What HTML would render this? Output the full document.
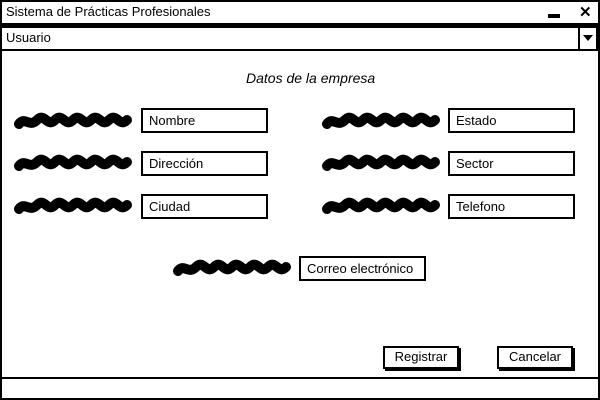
<!DOCTYPE html>
<html><head><style>
body{margin:0;width:600px;height:400px;background:#fff;position:relative;overflow:hidden;font-family:"Liberation Sans",sans-serif;font-size:13px;color:#000}
.a{position:absolute;box-sizing:border-box}
.box{border:2px solid #000;background:#fff;padding:2px 6px;line-height:18px}
.btn{border:2px solid #000;background:#fff;box-shadow:2px 2px 0 #000;text-align:center;line-height:18px}
</style></head><body>
<div class="a" style="left:0;top:0;width:600px;height:400px;border:2px solid #000"></div>
<div class="a" style="left:6px;top:4px">Sistema de Prácticas Profesionales</div>
<div class="a" style="left:548px;top:14px;width:12px;height:4px;background:#000"></div>
<div class="a" style="left:579px;top:3px;font-weight:bold;font-size:15px">✕</div>
<div class="a" style="left:0;top:23px;width:600px;height:3px;background:#000"></div>
<div class="a" style="left:0;top:26px;width:598px;height:25px;border:2px solid #000"></div>
<div class="a" style="left:6px;top:30px">Usuario</div>
<div class="a" style="left:578px;top:26px;width:2px;height:25px;background:#000"></div>
<div class="a" style="left:583px;top:35px;width:0;height:0;border-left:5px solid transparent;border-right:5px solid transparent;border-top:6px solid #000"></div>
<div class="a" style="left:246px;top:70px;font-style:italic;font-size:14px">Datos de la empresa</div>
<svg class="a" style="left:0;top:0" width="600" height="400">
<defs><path id="s" d="M0 6 C6 -2 10 10 18 2 S28 10 36 2 S46 10 54 2 S64 10 72 2 S82 10 90 2 S100 10 108 2" fill="none" stroke="#000" stroke-width="10" stroke-linecap="round"/></defs>
<use href="#s" x="19" y="118"/><use href="#s" x="19" y="160"/><use href="#s" x="19" y="203"/>
<use href="#s" x="327" y="118"/><use href="#s" x="327" y="160"/><use href="#s" x="327" y="203"/>
<use href="#s" x="178" y="265"/>
</svg>
<div class="a box" style="left:141px;top:108px;width:127px;height:25px">Nombre</div>
<div class="a box" style="left:141px;top:151px;width:127px;height:25px">Dirección</div>
<div class="a box" style="left:141px;top:194px;width:127px;height:25px">Ciudad</div>
<div class="a box" style="left:448px;top:108px;width:127px;height:25px">Estado</div>
<div class="a box" style="left:448px;top:151px;width:127px;height:25px">Sector</div>
<div class="a box" style="left:448px;top:194px;width:127px;height:25px">Telefono</div>
<div class="a box" style="left:299px;top:256px;width:127px;height:25px">Correo electrónico</div>
<div class="a btn" style="left:383px;top:346px;width:76px;height:23px">Registrar</div>
<div class="a btn" style="left:497px;top:346px;width:76px;height:23px">Cancelar</div>
<div class="a" style="left:0;top:377px;width:600px;height:2px;background:#000"></div>
</body></html>
